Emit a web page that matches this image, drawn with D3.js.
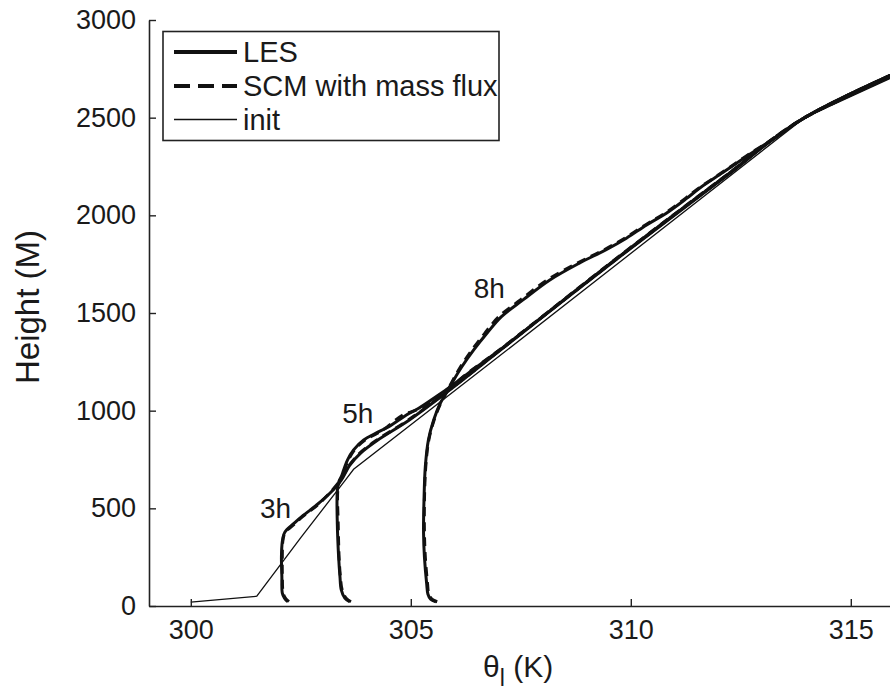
<!DOCTYPE html>
<html>
<head>
<meta charset="utf-8">
<script src="https://cdn.jsdelivr.net/npm/d3@7/dist/d3.min.js"></script>
<style>
  html, body { margin: 0; padding: 0; background: #fff; }
  svg { display: block; }
  text { font-family: "Liberation Sans", Arial, Helvetica, sans-serif; fill: #1a1a1a; }
</style>
</head>
<body>
<svg id="chart" width="890" height="694"></svg>
<script>
// Liquid-water potential temperature profiles (K) against height (m)

const xTicks = [300, 305, 310, 315];
const yTicks = [0, 500, 1000, 1500, 2000, 2500, 3000];

// initial profile
const initZ = [20, 50, 350, 650, 700, 1300, 2500, 3000];
const initT = [300.0, 301.5, 302.5, 303.53, 303.7, 307.13, 313.95, 318.8];

// 3 h
const z3h = [22, 40, 66, 150, 250, 330, 370, 390, 420, 450, 517, 577, 645, 720, 783, 850, 950, 1100, 1300, 1800, 2200, 2500, 3000];
const les3hT = [302.20, 302.13, 302.08, 302.07, 302.06, 302.08, 302.12, 302.18, 302.33, 302.48, 302.86, 303.16, 303.42, 303.61, 303.86, 304.25, 304.95, 305.85, 306.98, 309.82, 312.16, 313.95, 318.80];
const scm3hT = [302.23, 302.15, 302.10, 302.08, 302.08, 302.09, 302.13, 302.20, 302.36, 302.50, 302.88, 303.15, 303.40, 303.60, 303.84, 304.23, 304.93, 305.84, 306.97, 309.81, 312.15, 313.95, 318.80];

// 5 h
const z5h = [22, 40, 82, 150, 250, 420, 590, 640, 662, 700, 747, 799, 850, 884, 918, 978, 1012, 1072, 1123, 1200, 1300, 1800, 2200, 2500, 3000];
const les5hT = [303.61, 303.50, 303.42, 303.39, 303.36, 303.33, 303.33, 303.37, 303.42, 303.48, 303.56, 303.70, 303.93, 304.20, 304.50, 304.90, 305.18, 305.58, 305.90, 306.35, 306.96, 309.80, 312.15, 313.95, 318.80];
const scm5hT = [303.64, 303.53, 303.44, 303.40, 303.37, 303.35, 303.34, 303.38, 303.44, 303.50, 303.58, 303.72, 303.96, 304.24, 304.47, 304.82, 305.22, 305.60, 305.91, 306.34, 306.95, 309.79, 312.14, 313.95, 318.80];

// 8 h
const z8h = [22, 35, 60, 116, 250, 372, 543, 713, 850, 952, 1038, 1089, 1140, 1225, 1311, 1396, 1481, 1567, 1669, 1754, 1823, 1883, 1951, 2010, 2087, 2140, 2220, 2300, 2400, 2500, 3000];
const les8hT = [305.57, 305.45, 305.39, 305.36, 305.31, 305.29, 305.30, 305.33, 305.40, 305.52, 305.67, 305.80, 305.93, 306.16, 306.43, 306.73, 307.06, 307.55, 308.16, 308.82, 309.43, 309.90, 310.36, 310.80, 311.27, 311.57, 312.10, 312.62, 313.30, 313.95, 318.80];
const scm8hT = [305.60, 305.48, 305.41, 305.38, 305.33, 305.31, 305.31, 305.34, 305.41, 305.53, 305.68, 305.80, 305.92, 306.13, 306.39, 306.68, 307.00, 307.49, 308.10, 308.77, 309.39, 309.86, 310.33, 310.77, 311.24, 311.55, 312.08, 312.60, 313.29, 313.95, 318.80];

// time labels, placed at a (theta, height) point each
const timeLabels = ["3h", "5h", "8h"];
const labelT = [301.57, 303.44, 306.43];
const labelZ = [450, 935, 1575];

const legendLabels = ["LES", "SCM with mass flux", "init"];

// ---------------------------------------------------------------
const svg = d3.select("#chart");
const mLeft = 149, mBottom = 606, mTop = 20;

const x = d3.scaleLinear().domain([299.05, 316.05]).range([mLeft, mLeft + 17 * 44]);
const y = d3.scaleLinear().domain([0, 3000]).range([mBottom, mTop]);

svg.append("defs").append("clipPath").attr("id", "plotClip")
  .append("rect").attr("x", mLeft).attr("y", mTop - 5).attr("width", 890 - mLeft).attr("height", mBottom - mTop + 5);

const line = d3.line().x(d => x(d[1])).y(d => y(d[0])).curve(d3.curveCatmullRom.alpha(0.5));
const lineLin = d3.line().x(d => x(d[1])).y(d => y(d[0]));
const pairs = (zs, ts) => zs.map((z, i) => [z, ts[i]]);

const plot = svg.append("g").attr("clip-path", "url(#plotClip)");

// initial profile (thin)
plot.append("path").datum(pairs(initZ, initT))
  .attr("d", lineLin).attr("fill", "none").attr("stroke", "#111").attr("stroke-width", 1.3);

const series = [
  [z3h, les3hT, scm3hT],
  [z5h, les5hT, scm5hT],
  [z8h, les8hT, scm8hT]
];

series.forEach(([zs, les, scm]) => {
  plot.append("path").datum(pairs(zs, les))
    .attr("d", line).attr("fill", "none").attr("stroke", "#111")
    .attr("stroke-width", 3).attr("stroke-linejoin", "round");
  plot.append("path").datum(pairs(zs, scm))
    .attr("d", line).attr("fill", "none").attr("stroke", "#111")
    .attr("stroke-width", 3).attr("stroke-dasharray", "9,6");
});

// axes
const yAxis = d3.axisLeft(y).tickValues(yTicks).tickFormat(d3.format("d"))
  .tickSizeInner(-7).tickSizeOuter(0).tickPadding(13);
const xAxis = d3.axisBottom(x).tickValues(xTicks).tickFormat(d3.format("d"))
  .tickSizeInner(-7).tickSizeOuter(0).tickPadding(14);

const gy = svg.append("g").attr("transform", `translate(${mLeft},0)`).call(yAxis);
const gx = svg.append("g").attr("transform", `translate(0,${mBottom})`).call(xAxis);

[gx, gy].forEach(g => {
  g.select(".domain").attr("stroke", "#222").attr("stroke-width", 1.6);
  g.selectAll(".tick line").attr("stroke", "#222").attr("stroke-width", 1.4);
  g.selectAll(".tick text").attr("font-size", 27).attr("fill", "#1a1a1a")
    .style("font-family", "'Liberation Sans', Arial, sans-serif");
});

// axis titles
svg.append("text")
  .attr("transform", "translate(39,307) rotate(-90)")
  .attr("text-anchor", "middle")
  .attr("font-size", 33)
  .text("Height (M)");

const xt = svg.append("text").attr("x", 483).attr("y", 677).attr("font-size", 30);
xt.append("tspan").text("θ");
xt.append("tspan").attr("dy", 9).attr("font-size", 23).text("l");
xt.append("tspan").attr("dy", -9).text(" (K)");

// time labels
timeLabels.forEach((t, i) => {
  svg.append("text").attr("x", x(labelT[i])).attr("y", y(labelZ[i]))
    .attr("font-size", 28).text(t);
});

// legend
const lg = svg.append("g");
lg.append("rect").attr("x", 163).attr("y", 31.5).attr("width", 336).attr("height", 109)
  .attr("fill", "#fff").attr("stroke", "#222").attr("stroke-width", 1.6);
const rowY = [52, 86, 119.5];
const styles = [
  { w: 4, dash: null },
  { w: 4, dash: "16,8" },
  { w: 1.5, dash: null }
];
legendLabels.forEach((lab, i) => {
  lg.append("line").attr("x1", 174).attr("x2", 237).attr("y1", rowY[i]).attr("y2", rowY[i])
    .attr("stroke", "#111").attr("stroke-width", styles[i].w)
    .attr("stroke-dasharray", styles[i].dash);
  lg.append("text").attr("x", 243).attr("y", rowY[i] + 10).attr("font-size", 29).text(lab);
});
</script>
</body>
</html>
